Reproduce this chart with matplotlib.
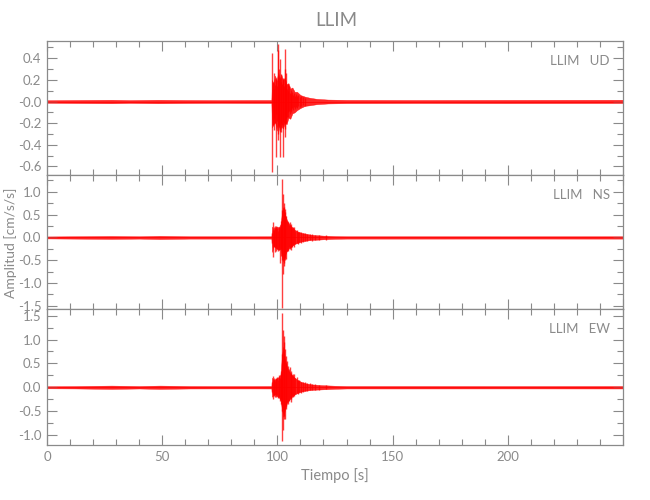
import numpy as np
import matplotlib
matplotlib.use("Agg")
from matplotlib import pyplot as plt
from matplotlib.ticker import MultipleLocator, FuncFormatter

plt.rcParams['font.family'] = ['Lato', 'DejaVu Sans']

GRAY = "#8a8a8a"
RED = "#ff0000"

station = "LLIM"
components = ["UD", "NS", "EW"]

# body of each trace: envelope knots (time [s], upper, lower)
ud_t = [0, 12, 28, 36, 48, 60, 75, 90, 97.4, 97.7, 98.3, 99.0, 99.7, 100.3, 101.0, 101.7, 102.4,
        103.2, 104.0, 104.8, 105.6, 106.5, 107.5, 108.5, 110, 112, 114, 117, 122, 130, 160, 200, 250]
ud_hi = [0.012, 0.014, 0.016, 0.013, 0.016, 0.014, 0.013, 0.014, 0.014, 0.20, 0.16, 0.24, 0.19, 0.27,
         0.21, 0.25, 0.20, 0.22, 0.16, 0.17, 0.12, 0.13, 0.09, 0.09, 0.06, 0.045, 0.035, 0.025, 0.018,
         0.015, 0.014, 0.015, 0.016]
ud_lo = [-0.012, -0.014, -0.016, -0.013, -0.016, -0.014, -0.013, -0.014, -0.014, -0.24, -0.21, -0.19,
         -0.27, -0.20, -0.28, -0.23, -0.25, -0.20, -0.21, -0.15, -0.16, -0.11, -0.10, -0.08, -0.06,
         -0.04, -0.035, -0.025, -0.018, -0.015, -0.014, -0.015, -0.014]

ns_t = [0, 12, 28, 40, 49, 62, 75, 90, 97.4, 97.7, 98.3, 99.0, 99.8, 100.6, 101.4, 102.0, 102.6,
        103.2, 104.0, 104.8, 105.6, 106.5, 107.5, 108.8, 110.5, 112.5, 114.6, 117, 120, 125, 130,
        160, 200, 250]
ns_hi = [0.022, 0.026, 0.032, 0.026, 0.035, 0.026, 0.026, 0.025, 0.026, 0.24, 0.15, 0.21, 0.24, 0.22,
         0.29, 0.55, 0.66, 0.52, 0.40, 0.32, 0.27, 0.22, 0.17, 0.13, 0.10, 0.08, 0.06, 0.05, 0.04,
         0.03, 0.026, 0.026, 0.025, 0.026]
ns_lo = [-0.022, -0.026, -0.032, -0.026, -0.035, -0.026, -0.026, -0.025, -0.026, -0.32, -0.18, -0.22,
         -0.25, -0.27, -0.25, -0.42, -0.52, -0.40, -0.31, -0.25, -0.22, -0.18, -0.14, -0.12, -0.09,
         -0.07, -0.055, -0.05, -0.04, -0.03, -0.026, -0.026, -0.025, -0.026]

ew_t = [0, 12, 28, 40, 49, 62, 75, 90, 97.4, 97.7, 98.3, 99.0, 99.8, 100.6, 101.4, 102.0, 102.6,
        103.2, 104.0, 104.8, 105.6, 106.5, 107.5, 108.8, 110.5, 112.5, 115, 119, 125, 130, 160,
        200, 250]
ew_hi = [0.022, 0.025, 0.035, 0.026, 0.035, 0.026, 0.025, 0.025, 0.026, 0.20, 0.15, 0.17, 0.19, 0.22,
         0.27, 0.68, 0.85, 0.62, 0.45, 0.35, 0.30, 0.25, 0.20, 0.15, 0.11, 0.08, 0.06, 0.045, 0.032,
         0.026, 0.026, 0.025, 0.026]
ew_lo = [-0.022, -0.025, -0.035, -0.026, -0.035, -0.026, -0.025, -0.025, -0.026, -0.20, -0.16, -0.15,
         -0.19, -0.21, -0.27, -0.47, -0.62, -0.48, -0.35, -0.28, -0.24, -0.19, -0.15, -0.12, -0.09,
         -0.07, -0.055, -0.045, -0.032, -0.026, -0.026, -0.025, -0.026]

# individual strokes in the burst (time [s], top, bottom)
ud_spk_t = [97.8, 98.1, 98.4, 98.6, 98.9, 99.2, 99.5, 99.8, 100.1, 100.3, 100.6, 100.9, 101.1, 101.4,
            101.7, 102.0, 102.3, 102.5, 102.8, 103.1, 103.3, 103.6, 103.9, 104.2, 104.5, 104.8, 105.1,
            105.4, 105.7, 106.0, 106.4, 106.8, 107.2, 107.6, 108.0, 108.5, 109.0, 109.6, 110.2, 111.0,
            112.0]
ud_spk_hi = [0.45, 0.18, 0.12, 0.26, 0.15, 0.20, 0.22, 0.14, 0.53, 0.48, 0.20, 0.30, 0.39, 0.18,
             0.25, 0.16, 0.22, 0.20, 0.14, 0.49, 0.30, 0.15, 0.26, 0.12, 0.16, 0.10, 0.14, 0.08, 0.11,
             0.07, 0.09, 0.06, 0.08, 0.05, 0.07, 0.05, 0.06, 0.04, 0.05, 0.04, 0.035]
ud_spk_lo = [-0.65, -0.22, -0.15, -0.26, -0.20, -0.12, -0.51, -0.18, -0.30, -0.36, -0.24, -0.22, -0.51,
             -0.20, -0.28, -0.22, -0.18, -0.51, -0.20, -0.25, -0.33, -0.16, -0.20, -0.14, -0.10, -0.14,
             -0.09, -0.12, -0.08, -0.10, -0.06, -0.08, -0.05, -0.07, -0.05, -0.06, -0.04, -0.05, -0.04,
             -0.035, -0.04]

ns_spk_t = [97.7, 98.1, 98.4, 98.7, 99.0, 99.3, 99.6, 99.9, 100.2, 100.5, 100.8, 101.1, 101.4, 101.7,
            102.0, 102.2, 102.4, 102.7, 102.9, 103.2, 103.5, 103.9, 104.2, 104.6, 105.0, 105.3, 105.7,
            106.0, 106.4, 106.8, 107.3, 107.8, 108.3, 108.9, 109.5, 110.2, 111.0, 112.0, 113.0, 114.0,
            115.0, 116.5, 118.0, 121.0]
ns_spk_hi = [0.10, 0.33, 0.15, 0.22, 0.26, 0.18, 0.26, 0.20, 0.15, 0.24, 0.18, 0.22, 0.30, 0.35,
             0.60, 1.28, 0.95, 0.75, 0.67, 0.55, 0.62, 0.48, 0.35, 0.33, 0.28, 0.33, 0.24, 0.30, 0.20,
             0.22, 0.22, 0.15, 0.16, 0.12, 0.13, 0.12, 0.09, 0.10, 0.07, 0.08, 0.07, 0.06, 0.05, 0.05]
ns_spk_lo = [-0.12, -0.44, -0.20, -0.18, -0.33, -0.22, -0.30, -0.25, -0.30, -0.20, -0.28, -0.55, -0.25,
             -0.40, -0.50, -1.55, -0.80, -0.55, -0.63, -0.45, -0.50, -0.48, -0.30, -0.30, -0.22, -0.25,
             -0.28, -0.20, -0.22, -0.16, -0.22, -0.14, -0.12, -0.14, -0.10, -0.12, -0.10, -0.08, -0.08,
             -0.06, -0.07, -0.05, -0.06, -0.05]

ew_spk_t = [97.7, 98.1, 98.4, 98.7, 99.0, 99.3, 99.6, 99.9, 100.2, 100.5, 100.8, 101.1, 101.4, 101.7,
            102.0, 102.2, 102.4, 102.7, 102.9, 103.2, 103.6, 103.9, 104.2, 104.6, 105.0, 105.3, 105.7,
            106.0, 106.4, 106.8, 107.3, 107.8, 108.3, 108.9, 109.5, 110.2, 111.0, 112.0, 113.0, 114.0,
            115.0, 116.5, 118.0, 121.0]
ew_spk_hi = [0.10, 0.24, 0.15, 0.20, 0.14, 0.20, 0.18, 0.22, 0.16, 0.20, 0.25, 0.20, 0.30, 0.35,
             0.70, 1.55, 1.20, 1.08, 0.95, 0.80, 0.66, 0.50, 0.55, 0.45, 0.38, 0.42, 0.30, 0.35, 0.26,
             0.28, 0.28, 0.20, 0.22, 0.15, 0.16, 0.12, 0.10, 0.11, 0.08, 0.08, 0.07, 0.06, 0.05, 0.04]
ew_spk_lo = [-0.10, -0.24, -0.18, -0.14, -0.20, -0.15, -0.20, -0.16, -0.22, -0.18, -0.20, -0.28, -0.25,
             -0.35, -0.50, -1.12, -0.90, -0.66, -0.60, -0.66, -0.45, -0.40, -0.30, -0.35, -0.28, -0.22,
             -0.30, -0.25, -0.18, -0.20, -0.18, -0.15, -0.12, -0.14, -0.10, -0.12, -0.09, -0.08, -0.07,
             -0.06, -0.06, -0.05, -0.05, -0.04]

traces = [
    (ud_t, ud_hi, ud_lo, ud_spk_t, ud_spk_hi, ud_spk_lo),
    (ns_t, ns_hi, ns_lo, ns_spk_t, ns_spk_hi, ns_spk_lo),
    (ew_t, ew_hi, ew_lo, ew_spk_t, ew_spk_hi, ew_spk_lo),
]
y_limits = [(-0.68, 0.56), (-1.57, 1.37), (-1.21, 1.64)]
y_major = [0.2, 0.5, 0.5]
y_minor = [0.1, 0.25, 0.25]

fig = plt.figure(figsize=(6.5, 5), dpi=100)
boxes = [
    [47 / 650, 1 - 175 / 500, 576 / 650, 134 / 500],
    [47 / 650, 1 - 309 / 500, 576 / 650, 134 / 500],
    [47 / 650, 1 - 445 / 500, 576 / 650, 136 / 500],
]


def idl_label(v, pos, neg_zero=False):
    if abs(v) < 1e-9:
        return "-0.0" if neg_zero else "0.0"
    return f"{v:.1f}"


axes = []
for i, (box, tr) in enumerate(zip(boxes, traces)):
    ax = fig.add_axes(box)
    t, hi, lo, st, shi, slo = tr
    ax.fill_between(t, lo, hi, color=RED, lw=0.3, alpha=0.85)
    ax.vlines(st, slo, shi, color=RED, lw=1.0, alpha=0.75)
    ax.plot(t, [0] * len(t), color=RED, lw=0.5)

    ax.set_xlim(0, 250)
    ax.set_ylim(*y_limits[i])
    ax.xaxis.set_major_locator(MultipleLocator(50))
    ax.xaxis.set_minor_locator(MultipleLocator(10))
    ax.yaxis.set_major_locator(MultipleLocator(y_major[i]))
    ax.yaxis.set_minor_locator(MultipleLocator(y_minor[i]))
    ax.yaxis.set_major_formatter(FuncFormatter(lambda v, p, nz=(i == 0): idl_label(v, p, nz)))
    ax.tick_params(which="both", direction="in", top=True, right=True, colors=GRAY,
                   labelcolor=GRAY, labelsize=9.5, width=0.8, pad=4)
    ax.tick_params(which="major", length=7)
    ax.tick_params(which="minor", length=4)
    for sp in ax.spines.values():
        sp.set_color(GRAY)
        sp.set_linewidth(0.9)
    if i < 2:
        ax.tick_params(labelbottom=False)
    else:
        ax.xaxis.set_major_formatter(FuncFormatter(lambda v, p: f"{v:.0f}" if v < 250 else ""))
    ax.text(0.977, 0.85, f"{station}   {components[i]}", transform=ax.transAxes,
            ha="right", va="center", color=GRAY, fontsize=9.5)
    axes.append(ax)

fig.text(336 / 650, 1 - 20 / 500, station, ha="center", va="center", color=GRAY, fontsize=13.5)
axes[2].set_xlabel("Tiempo [s]", color=GRAY, fontsize=10.5, labelpad=4)
fig.text(11 / 650, 1 - 243 / 500, "Amplitud [cm/s/s]", rotation=90, ha="center", va="center",
         color=GRAY, fontsize=10)

fig.savefig("out.png", dpi=100)
